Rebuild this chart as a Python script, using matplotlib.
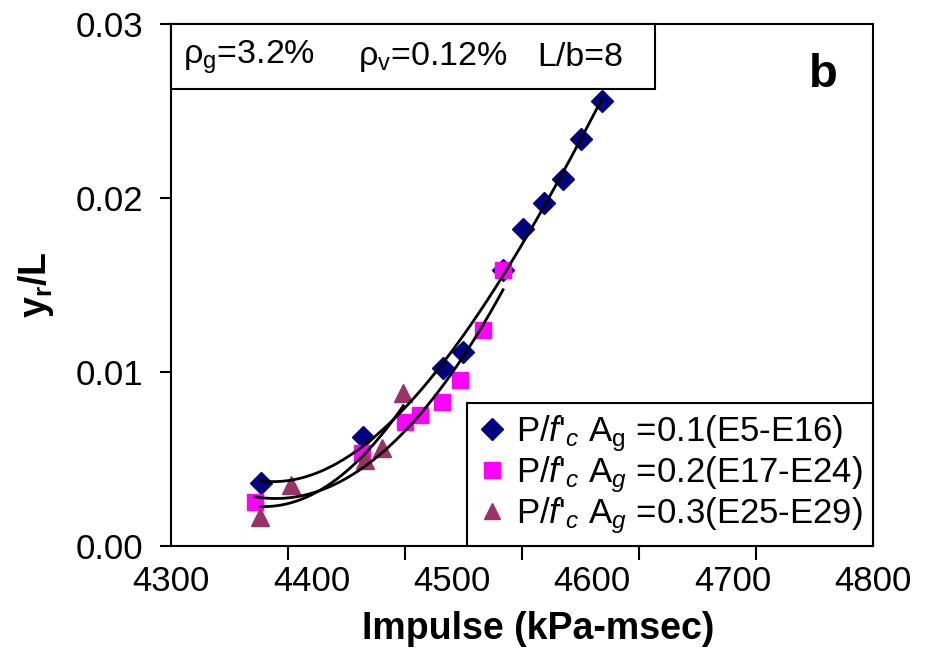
import numpy as np
import matplotlib
matplotlib.use('Agg')
import matplotlib.pyplot as plt
from matplotlib.patches import Rectangle

plt.rcParams['font.family'] = ['Liberation Sans', 'DejaVu Sans']
plt.rcParams['mathtext.fontset'] = 'custom'
plt.rcParams['mathtext.rm'] = 'Liberation Sans'
plt.rcParams['mathtext.it'] = 'Liberation Sans:italic'
plt.rcParams['mathtext.bf'] = 'Liberation Sans:bold'

# data
imp_01 = [4363.9, 4437.0, 4493.9, 4508.2, 4536.5, 4550.5, 4565.9, 4579.0, 4591.8, 4606.8]
yr_01 = [0.00364, 0.00628, 0.01021, 0.01117, 0.01586, 0.01820, 0.01973, 0.02107, 0.02337, 0.02559]
imp_02 = [4359.8, 4435.8, 4466.7, 4477.4, 4492.8, 4505.8, 4522.4, 4536.5]
yr_02 = [0.00255, 0.00533, 0.00714, 0.00753, 0.00829, 0.00954, 0.01241, 0.01586]
imp_03 = [4363.4, 4385.3, 4438.2, 4450.1, 4465.5]
yr_03 = [0.00168, 0.00351, 0.00494, 0.00562, 0.00878]

labels = [r"P/$f$'$_c$ A$_\mathrm{g}$ =0.1(E5-E16)",
          r"P/$f$'$_c$ A$_g$ =0.2(E17-E24)",
          r"P/$f$'$_c$ A$_g$ =0.3(E25-E29)"]
colors = ['#000080', '#FF00FF', '#993366']
markers = ['D', 's', '^']
msizes = [11, 11, 13]
degrees = [3, 2, 2]

fig = plt.figure(figsize=(9.33, 6.7), dpi=100)
ax = fig.add_axes([171/933, 124/670, 702/933, 522/670])

series = [(imp_01, yr_01), (imp_02, yr_02), (imp_03, yr_03)]
for (x, y), c, m, ms, lab in zip(series, colors, markers, msizes, labels):
    ax.plot(x, y, ls='none', marker=m, ms=ms, color=c, mec=c, label=lab, zorder=2)

# polynomial trendlines, like Excel's
for (x, y), d in zip(series, degrees):
    p = np.polyfit(x, y, d)
    xx = np.linspace(min(x), max(x), 200)
    ax.plot(xx, np.polyval(p, xx), color='black', lw=2, zorder=3)

ax.set_xlim(4300, 4800)
ax.set_ylim(0, 0.03)
ax.set_xticks([4300, 4400, 4500, 4600, 4700, 4800])
ax.set_xticks(np.linspace(4300, 4800, 7), minor=True)
ax.set_yticks([0, 0.01, 0.02, 0.03])
ax.set_yticklabels(['0.00', '0.01', '0.02', '0.03'])
ax.tick_params(axis='x', which='major', length=0, labelsize=25, pad=14)
ax.tick_params(axis='x', which='minor', length=10, width=1.5, direction='out')
ax.tick_params(axis='y', which='major', length=8, width=1.5, direction='out', labelsize=25, pad=12)
for s in ax.spines.values():
    s.set_linewidth(1.5)

ax.set_xlabel('Impulse (kPa-msec)', fontsize=27, fontweight='bold')
ax.xaxis.set_label_coords(0.523, -0.125)
ax.set_ylabel(r'$\mathbf{y_r}$/L', fontsize=27, fontweight='bold', labelpad=14)

# parameter box
ax.add_patch(Rectangle((0, 1 - 65/522), 484/702, 65/522, transform=ax.transAxes,
                       fc='white', ec='black', lw=1.5, zorder=4, clip_on=False))
ax.text(12/702, 1 - 33/522, r'ρ$_\mathrm{g}$=3.2%', transform=ax.transAxes,
        fontsize=24.5, va='center', ha='left', zorder=5)
ax.text(187/702, 1 - 33/522, r'ρ$_\mathrm{v}$=0.12%', transform=ax.transAxes,
        fontsize=24.5, va='center', ha='left', zorder=5)
ax.text(366/702, 1 - 33/522, 'L/b=8', transform=ax.transAxes,
        fontsize=24.5, va='center', ha='left', zorder=5)
ax.text(652/702, 1 - 51/522, 'b', transform=ax.transAxes, fontsize=34,
        fontweight='bold', ha='center', va='center')

leg = ax.legend(loc='lower right', bbox_to_anchor=(1, 0), fontsize=25, frameon=True,
                fancybox=False, edgecolor='black', framealpha=1, borderaxespad=0,
                handlelength=0.8, handletextpad=0.3, labelspacing=0.0,
                borderpad=0.3)
leg.get_frame().set_linewidth(1.5)
for h in leg.legend_handles:
    h.set_markersize(11)

fig.savefig('out.png', dpi=100)
